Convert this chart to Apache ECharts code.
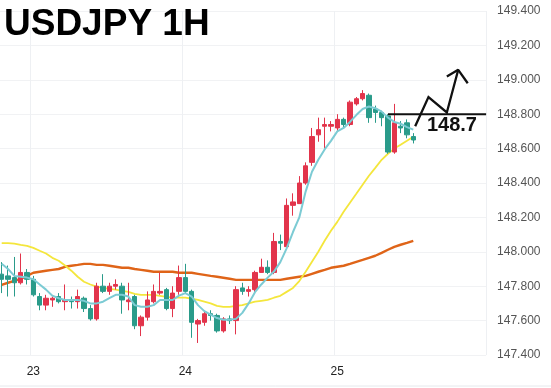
<!DOCTYPE html>
<html>
<head>
<meta charset="utf-8">
<script src="https://cdn.jsdelivr.net/npm/echarts@6/dist/echarts.min.js"></script>
<style>
html,body{margin:0;padding:0;background:#fff;}
#main{width:551px;height:388px;}
</style>
</head>
<body>
<div id="main"></div>
<script>
// ---- data (USDJPY 1H), first candle = 22nd 19:00 ----
const firstDay = 22, firstHour = 19, slotCount = 77;
const openP  = [147.87,147.86,147.85,147.82,147.88,147.84,147.74,147.69,147.72,147.74,147.71,147.72,147.71,147.73,147.67,147.61,147.80,147.77,147.80,147.80,147.71,147.74,147.57,147.62,147.71,147.76,147.78,147.67,147.77,147.85,147.77,147.58,147.59,147.64,147.63,147.54,147.61,147.60,147.79,147.77,147.78,147.88,147.91,147.88,148.06,148.03,148.27,148.28,148.40,148.52,148.68,148.73,148.73,148.72,148.77,148.74,148.86,148.89,148.91,148.83,148.81,148.79,148.58,148.73,148.75,148.67];
const closeP = [147.84,147.84,147.82,147.88,147.84,147.75,147.69,147.73,147.73,147.71,147.72,147.71,147.74,147.67,147.61,147.80,147.77,147.80,147.81,147.72,147.72,147.57,147.62,147.72,147.77,147.77,147.67,147.76,147.85,147.77,147.59,147.60,147.64,147.63,147.54,147.61,147.60,147.78,147.77,147.78,147.88,147.91,147.88,148.06,148.05,148.27,148.29,148.40,148.50,148.67,148.71,148.74,148.74,148.77,148.74,148.87,148.89,148.92,148.78,148.81,148.78,148.58,148.75,148.72,148.68,148.65];
const lowP   = [147.76,147.74,147.74,147.81,147.81,147.74,147.66,147.66,147.68,147.70,147.66,147.67,147.67,147.65,147.60,147.60,147.76,147.75,147.78,147.64,147.66,147.55,147.51,147.60,147.70,147.75,147.66,147.62,147.75,147.76,147.50,147.47,147.57,147.60,147.53,147.53,147.58,147.52,147.75,147.74,147.76,147.88,147.87,147.87,148.01,148.02,148.21,148.28,148.39,148.50,148.64,148.60,148.70,148.70,148.72,148.73,148.85,148.88,148.75,148.75,148.73,148.57,148.57,148.69,148.66,148.63];
const highP  = [147.94,147.92,147.97,147.99,147.90,147.86,147.76,147.75,147.74,147.76,147.81,147.74,147.78,147.74,147.69,147.82,147.87,147.82,147.84,147.82,147.82,147.75,147.63,147.77,147.81,147.88,147.79,147.80,147.92,147.93,147.78,147.61,147.65,147.66,147.64,147.62,147.63,147.80,147.82,147.80,147.89,147.96,147.95,148.11,148.10,148.31,148.34,148.44,148.52,148.72,148.78,148.78,148.76,148.80,148.78,148.88,148.90,148.94,148.92,148.85,148.82,148.80,148.86,148.76,148.77,148.69];
const maFast = [147.93,147.90,147.86,147.855,147.85,147.84,147.81,147.78,147.745,147.73,147.72,147.72,147.72,147.715,147.70,147.70,147.71,147.73,147.75,147.75,147.74,147.69,147.68,147.68,147.69,147.72,147.72,147.72,147.745,147.76,147.74,147.69,147.655,147.635,147.615,147.605,147.605,147.61,147.645,147.70,147.765,147.81,147.85,147.885,147.94,148.02,148.115,148.20,148.35,148.465,148.535,148.595,148.645,148.70,148.72,148.755,148.795,148.83,148.845,148.835,148.815,148.78,148.755,148.745,148.725,148.71];
const maMid  = [148.05,148.05,148.047,148.04,148.035,148.023,148.006,147.99,147.965,147.948,147.92,147.89,147.855,147.826,147.81,147.797,147.79,147.785,147.78,147.773,147.767,147.756,147.75,147.75,147.75,147.744,147.738,147.733,147.733,147.733,147.727,147.72,147.71,147.70,147.686,147.68,147.68,147.686,147.69,147.70,147.71,147.715,147.72,147.733,147.744,147.767,147.79,147.83,147.884,147.942,148.0,148.064,148.122,148.174,148.233,148.285,148.337,148.39,148.442,148.488,148.535,148.57,148.60,148.622,148.645,148.669];
const maSlow = [147.808,147.82,147.831,147.843,147.86,147.878,147.884,147.89,147.895,147.90,147.913,147.919,147.924,147.93,147.93,147.924,147.924,147.919,147.913,147.907,147.907,147.90,147.895,147.89,147.884,147.884,147.884,147.884,147.878,147.878,147.878,147.872,147.866,147.86,147.855,147.849,147.843,147.837,147.837,147.837,147.837,147.837,147.837,147.837,147.837,147.843,147.849,147.855,147.86,147.872,147.884,147.895,147.907,147.913,147.919,147.93,147.942,147.953,147.965,147.977,147.994,148.012,148.029,148.041,148.052,148.064];
// annotation (in slot index / price units)
const levelPrice = 148.8, levelFrom = 61, levelTo = 76.5;
const levelText = '148.7';
const levelTextAt = [71.1, 148.733];
const arrowPath = [[65.3,148.73],[67.4,148.90],[70.3,148.81],[72.1,149.058]];
const arrowHead = [[70.3,149.019],[72.1,149.058],[73.6,148.98]];
const yMin = 147.4, yMax = 149.4, yStep = 0.2;

const categories = [];
for (let i = 0; i < slotCount; i++) {
  const t = firstHour + i;
  categories.push((firstDay + Math.floor(t / 24)) + ' ' + (t % 24) + ':00');
}
const candles = openP.map((o, i) => [o, closeP[i], lowP[i], highP[i]]);
const isDayStart = (i, v) => String(v).endsWith(' 0:00');

const RED = '#e2344b', TEAL = '#2a9b8a';
const chart = echarts.init(document.getElementById('main'), null, {renderer: 'canvas'});
chart.setOption({
  animation: false,
  backgroundColor: '#fff',
  title: {
    text: 'USDJPY 1H', left: 4, top: 6, padding: 0,
    textStyle: {fontFamily: 'Liberation Sans', fontSize: 37, fontWeight: 'bold', color: '#000'}
  },
  grid: {left: -1.47, right: 64.9, top: 11, bottom: 33, containLabel: false, outerBoundsMode: 'none'},
  xAxis: [{
    type: 'category', data: categories, boundaryGap: true,
    axisLine: {show: false}, axisTick: {show: false},
    axisLabel: {interval: isDayStart, formatter: v => v.endsWith(' 0:00') ? v.split(' ')[0] : '',
      margin: 11, color: '#222', fontSize: 12, fontFamily: 'Liberation Sans'},
    splitLine: {show: true, interval: isDayStart, lineStyle: {color: '#eef0f3', width: 1}}
  }, {
    type: 'value', min: -0.5, max: slotCount - 0.5, show: false
  }],
  yAxis: {
    type: 'value', position: 'right', min: yMin, max: yMax, interval: yStep, scale: true,
    axisLine: {show: false}, axisTick: {show: false},
    axisLabel: {formatter: v => v.toFixed(3), margin: 11, color: '#555', fontSize: 12, fontFamily: 'Liberation Sans'},
    splitLine: {lineStyle: {color: '#f1f2f4', width: 1}}
  },
  series: [
    {type: 'line', name: 'MA slow', data: maSlow, showSymbol: false, z: 1,
      lineStyle: {color: '#df6418', width: 2.4}},
    {type: 'line', name: 'MA mid', data: maMid, showSymbol: false, z: 1,
      lineStyle: {color: '#f4e63c', width: 1.8}},
    {type: 'line', name: 'MA fast', data: maFast, showSymbol: false, z: 3,
      lineStyle: {color: '#7ccbd4', width: 2}},
    {type: 'candlestick', data: candles, barWidth: '74%', z: 2,
      itemStyle: {color: RED, color0: TEAL, borderColor: RED, borderColor0: TEAL, borderWidth: 1}},
    {type: 'line', xAxisIndex: 1, data: [[levelFrom, levelPrice], [levelTo, levelPrice]], showSymbol: false, z: 5,
      lineStyle: {color: '#111', width: 2}},
    {type: 'line', xAxisIndex: 1, data: arrowPath, showSymbol: false, z: 6,
      lineStyle: {color: '#111', width: 2.3, join: 'miter'}},
    {type: 'line', xAxisIndex: 1, data: arrowHead, showSymbol: false, z: 6,
      lineStyle: {color: '#111', width: 2.3}},
    {type: 'scatter', xAxisIndex: 1, data: [levelTextAt], symbolSize: 2, z: 7,
      itemStyle: {color: 'rgba(255,255,255,0)'},
      label: {show: true, position: 'inside', formatter: levelText, color: '#111',
        textBorderWidth: 0, textBorderColor: 'transparent', opacity: 1,
        fontFamily: 'Liberation Sans', fontSize: 20, fontWeight: 'bold'}}
  ],
  graphic: [{type: 'line', shape: {x1: 0, y1: 386, x2: 551, y2: 386}, style: {stroke: '#e6e8ec', lineWidth: 1}}]
});
</script>
</body>
</html>
